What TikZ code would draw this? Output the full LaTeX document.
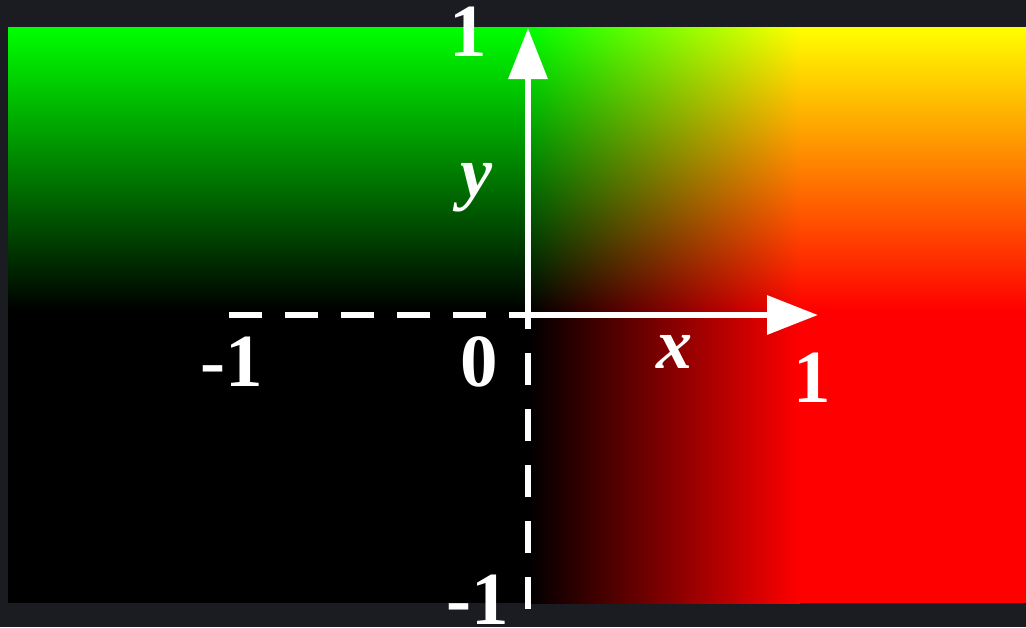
\documentclass[tikz,border=0pt]{standalone}
\usepackage{fontspec}
\setmainfont{Liberation Serif}
\usepackage{tikz}
\usetikzlibrary{arrows.meta}
\definecolor{framegray}{RGB}{27, 28, 33}

\tikzset{
  axisline/.style={draw=white, line width=6.5pt, -{Triangle[length=51pt, width=38pt]}},
  guideline/.style={draw=white, line width=6.5pt},
  ticklabel/.style={text=white, inner sep=0pt, font=\fontsize{75}{80}\selectfont\bfseries},
  axislabel/.style={text=white, inner sep=0pt, font=\fontsize{72}{80}\selectfont\bfseries\itshape}
}

\begin{document}
\begin{tikzpicture}[x=1pt, y=-1pt]
\fill[framegray] (0,0) rectangle (1026,627);
\useasboundingbox (0,0) rectangle (1026,627);

% colour field: red grows with x, green grows with y
\fill[black] (8,27) rectangle (1026,603);
\shade[left color=black, right color=red] (528,27) rectangle (800,603);
\fill[red] (800,27) rectangle (1026,603);
\begin{scope}[blend mode=screen]
  \shade[top color=green, bottom color=black] (8,27) rectangle (1026,310);
\end{scope}

\coordinate (O) at (528,315);
\coordinate (xtip) at (818,315);
\coordinate (ytip) at (528,28);
\coordinate (xneg) at (229,315);
\coordinate (yneg) at (528,609);

% dashed guides to -1
\draw[guideline, dash pattern=on 33pt off 23pt] (xneg) -- (O);
\draw[guideline, dash pattern=on 32pt off 24pt] (yneg) -- (O);

% axes
\draw[axisline] (O) -- (xtip);
\draw[axisline] (O) -- (ytip);

\node[ticklabel] (xm) at (232,362) {-1};
\node[ticklabel] (zero) at (479,362) {0};
\node[ticklabel] (xp) at (812,378) {1};
\node[ticklabel] (yp) at (468,32) {1};
\node[ticklabel] (ym) at (478,600) {-1};
\node[axislabel] (xl) at (674,352) {x};
\node[axislabel] (yl) at (476,188) {y};
\end{tikzpicture}
\end{document}
